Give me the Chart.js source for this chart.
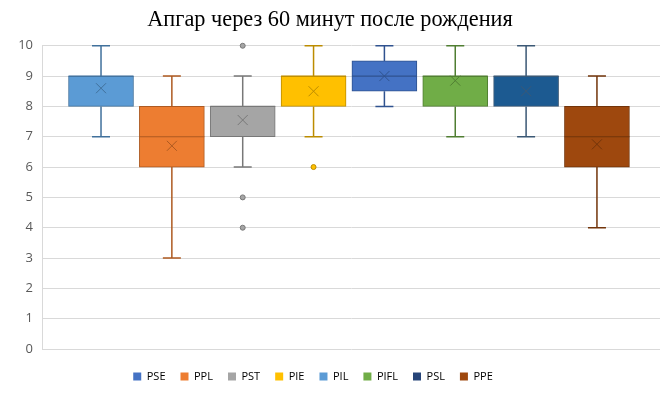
<!DOCTYPE html>
<html>
<head>
<meta charset="utf-8">
<script src="https://cdn.jsdelivr.net/npm/chart.js@4"></script>
<style>
  html, body { margin: 0; padding: 0; background: #fff; }
  #wrap { width: 667px; height: 399px; }
</style>
</head>
<body>
<div id="wrap"><canvas id="myChart"></canvas></div>
<script>
// box plot data
const labels   = ["PSE", "PPL", "PST", "PIE", "PIL", "PIFL", "PSL", "PPE"];
const mins     = [7, 3, 6, 7, 8, 7, 7, 4];
const q1s      = [8, 6, 7, 8, 8.5, 8, 8, 6];
const medians  = [9, 7, 8, 9, 9, 9, 9, 7];
const q3s      = [9, 8, 8, 9, 9.5, 9, 9, 8];
const maxs     = [10, 9, 9, 10, 10, 10, 10, 9];
const means    = [8.6, 6.7, 7.55, 8.5, 9.0, 8.85, 8.5, 6.75];
const outliers = [[], [], [10, 5, 4], [6], [], [], [], []];
const yTicks   = [0, 1, 2, 3, 4, 5, 6, 7, 8, 9, 10];

var boxColors    = ["#5B9BD5", "#ED7D31", "#A5A5A5", "#FFC000", "#4472C4", "#70AD47", "#1C5A91", "#9E480E"];
var lineColors   = ["#41719C", "#AE5A21", "#787878", "#BC8C00", "#2F528F", "#507E32", "#3B5875", "#72340A"];
var legendColors = ["#4472C4", "#ED7D31", "#A5A5A5", "#FFC000", "#5B9BD5", "#70AD47", "#264478", "#9E480E"];

Chart.defaults.font.family = "'Open Sans', sans-serif";
Chart.defaults.color = "#595959";

const datasets = labels.map((lab, i) => ({
  label: lab,
  data: [{ x: i, y: [q1s[i], q3s[i]] }],
  backgroundColor: boxColors[i],
  borderColor: lineColors[i],
  borderWidth: 1,
  borderSkipped: false,
  barThickness: 65,
  grouped: false
}));

// whiskers, median, mean cross and outliers
const boxExtras = {
  id: "boxExtras",
  afterDatasetsDraw(chart) {
    const ctx = chart.ctx;
    const xs = chart.scales.x, ys = chart.scales.y;
    ctx.save();
    for (let i = 0; i < labels.length; i++) {
      const cx = xs.getPixelForValue(i);
      const half = 65 / 2;
      ctx.strokeStyle = lineColors[i];
      ctx.lineWidth = 1.5;
      ctx.beginPath();
      // upper whisker
      ctx.moveTo(cx, ys.getPixelForValue(q3s[i]));
      ctx.lineTo(cx, ys.getPixelForValue(maxs[i]));
      ctx.moveTo(cx - 9, ys.getPixelForValue(maxs[i]));
      ctx.lineTo(cx + 9, ys.getPixelForValue(maxs[i]));
      // lower whisker
      ctx.moveTo(cx, ys.getPixelForValue(q1s[i]));
      ctx.lineTo(cx, ys.getPixelForValue(mins[i]));
      ctx.moveTo(cx - 9, ys.getPixelForValue(mins[i]));
      ctx.lineTo(cx + 9, ys.getPixelForValue(mins[i]));
      ctx.stroke();
      // median
      ctx.lineWidth = 1.2;
      ctx.beginPath();
      ctx.moveTo(cx - half, ys.getPixelForValue(medians[i]));
      ctx.lineTo(cx + half, ys.getPixelForValue(medians[i]));
      ctx.stroke();
      // mean
      const my = ys.getPixelForValue(means[i]);
      ctx.lineWidth = 1;
      ctx.beginPath();
      ctx.moveTo(cx - 5, my - 5); ctx.lineTo(cx + 5, my + 5);
      ctx.moveTo(cx + 5, my - 5); ctx.lineTo(cx - 5, my + 5);
      ctx.stroke();
      // outliers
      outliers[i].forEach(v => {
        ctx.beginPath();
        ctx.arc(cx, ys.getPixelForValue(v), 2.5, 0, Math.PI * 2);
        ctx.fillStyle = boxColors[i];
        ctx.fill();
        ctx.lineWidth = 1;
        ctx.stroke();
      });
    }
    ctx.restore();
  }
};

// nudge legend a bit like the original (left and down)
const legendShift = {
  id: "legendShift",
  afterLayout(chart) {
    chart.legend.left -= 17;
    chart.legend.right -= 17;
    chart.legend.top += 7;
    chart.legend.bottom += 7;
  }
};

const ctx = document.getElementById("myChart").getContext("2d");
var myChart = new Chart(ctx, {
  type: "bar",
  data: { datasets: datasets },
  options: {
    responsive: true,
    maintainAspectRatio: false,
    animation: false,
    layout: { padding: { left: 0, right: 7, top: 0, bottom: 14 } },
    scales: {
      x: {
        type: "linear",
        min: -0.833,
        max: 7.89,
        offset: false,
        display: false
      },
      y: {
        min: 0,
        max: 10,
        afterBuildTicks(scale) { scale.ticks = yTicks.map(v => ({ value: v })); },
        afterFit(scale) { scale.width = 42; },
        ticks: { font: { size: 13 }, color: "#595959", padding: 9 },
        grid: { color: "#D9D9D9", lineWidth: 1, drawTicks: false },
        border: { display: true, color: "#D9D9D9" }
      }
    },
    plugins: {
      title: {
        display: true,
        text: "Апгар через 60 минут после рождения",
        font: { family: "'Liberation Serif', serif", size: 22.3, weight: "normal" },
        color: "#000",
        padding: { top: 7, bottom: 12 }
      },
      legend: {
        position: "bottom",
        labels: {
          boxWidth: 8,
          boxHeight: 8,
          padding: 15,
          font: { size: 11 },
          color: "#595959",
          generateLabels(chart) {
            return labels.map((lab, i) => ({
              text: lab,
              fillStyle: legendColors[i],
              strokeStyle: legendColors[i],
              lineWidth: 0,
              datasetIndex: i,
              hidden: false
            }));
          }
        }
      },
      tooltip: { enabled: false }
    }
  },
  plugins: [boxExtras, legendShift]
});
</script>
</body>
</html>
